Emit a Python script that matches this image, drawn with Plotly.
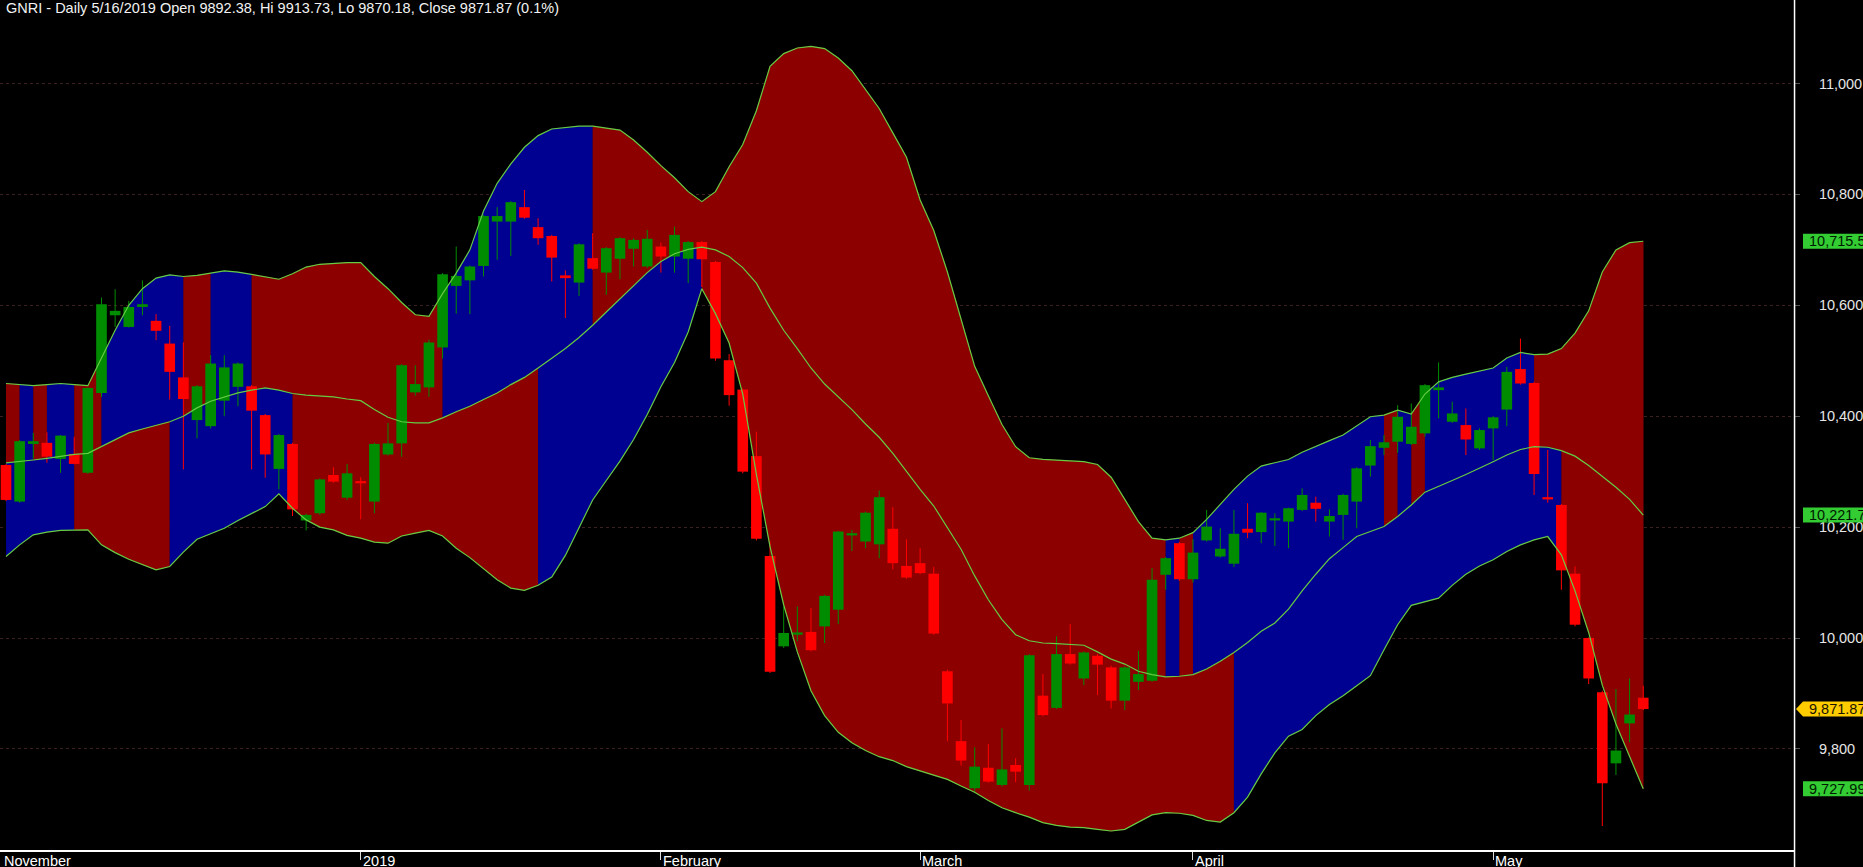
import plotly.graph_objects as go

# ---------------- data ----------------
opens = [10312,10246,10350,10352,10323,10332,10298,10442,10582,10561,
         10597,10572,10531,10470,10393,10382,10428,10453,10454,10402,
         10305,10350,10212,10225,10294,10253,10283,10246,10331,10351,
         10443,10452,10524,10635,10645,10671,10751,10751,10777,10741,
         10725,10654,10641,10685,10659,10684,10702,10670,10706,10688,
         10684,10714,10678,10501,10448,10328,10148,9985,10007,10011,
         10021,10051,10185,10174,10169,10197,10130,10135,10116,9940,
         9814,9729,9766,9735,9771,9735,9896,9874,9971,9927,
         9968,9947,9887,9921,9923,10114,10171,10106,10176,10147,
         10134,10197,10191,10212,10210,10231,10244,10210,10222,10246,
         10311,10343,10354,10350,10369,10447,10390,10384,10342,10378,
         10412,10485,10460,10254,10240,10116,10000,9902,9774,9846,
         9892.38]
highs = [10314,10357,10370,10371,10366,10363,10452,10614,10629,10608,
         10645,10584,10563,10533,10456,10510,10510,10497,10456,10404,
         10368,10352,10224,10288,10308,10314,10290,10352,10388,10494,
         10492,10538,10658,10706,10672,10763,10777,10788,10808,10757,
         10727,10663,10712,10730,10705,10723,10721,10736,10713,10742,
         10716,10716,10680,10512,10450,10372,10174,10057,10057,10054,
         10078,10193,10195,10228,10266,10236,10178,10162,10128,9943,
         9852,9803,9809,9837,9783,9971,9935,10003,10025,9976,
         9971,9950,9949,9977,10126,10146,10173,10178,10231,10198,
         10231,10243,10227,10225,10235,10270,10255,10232,10260,10308,
         10357,10366,10420,10423,10458,10497,10426,10414,10378,10400,
         10489,10540,10462,10339,10242,10129,10001,9905,9908,9927,
         9913.73]
lows = [10247,10244,10324,10316,10298,10313,10296,10435,10561,10560,
        10582,10537,10430,10304,10360,10378,10400,10418,10304,10289,
        10268,10220,10194,10222,10280,10249,10214,10225,10329,10327,
        10437,10435,10504,10585,10584,10652,10682,10689,10756,10709,
        10643,10577,10617,10664,10619,10647,10670,10667,10659,10659,
        10640,10633,10500,10419,10297,10176,9937,9982,9994,9976,
        9991,10025,10157,10162,10144,10124,10107,10115,10006,9814,
        9770,9721,9739,9732,9740,9725,9859,9872,9952,9915,
        9897,9873,9870,9906,9921,10087,10103,10100,10174,10145,
        10128,10180,10171,10166,10162,10229,10210,10183,10177,10198,
        10291,10330,10334,10348,10363,10396,10388,10330,10339,10321,
        10382,10457,10258,10244,10087,10021,9917,9661,9753,9812,
        9870.18]
closes = [10249,10355,10355,10327,10365,10314,10451,10602,10590,10597,
          10602,10554,10480,10431,10454,10495,10488,10495,10410,10331,
          10366,10232,10222,10286,10282,10297,10279,10350,10351,10492,
          10458,10533,10656,10653,10670,10761,10761,10786,10758,10721,
          10686,10649,10710,10666,10703,10721,10718,10720,10688,10727,
          10714,10683,10504,10438,10300,10179,9939,10009,10009,9978,
          10076,10192,10189,10226,10254,10135,10109,10117,10008,9882,
          9779,9768,9741,9763,9759,9969,9861,9971,9954,9974,
          9952,9887,9947,9935,10105,10144,10106,10154,10201,10161,
          10188,10190,10226,10216,10234,10258,10233,10220,10258,10306,
          10346,10353,10399,10381,10456,10452,10405,10358,10375,10398,
          10480,10459,10296,10250,10122,10024,9927,9738,9797,9862,
          9871.87]

bb_upper = [10459,10457,10455,10457,10459,10457,10455,10505,10555,10600,
            10630,10649,10655,10652,10654,10658,10662,10660,10656,10652,
            10647,10657,10669,10674,10676,10677,10677,10652,10630,10605,
            10583,10580,10621,10658,10700,10770,10820,10855,10885,10906,
            10918,10921,10923,10923,10919,10916,10898,10876,10852,10830,
            10805,10787,10805,10850,10890,10951,11031,11054,11064,11067,
            11063,11046,11023,10989,10955,10911,10867,10790,10735,10660,
            10575,10490,10437,10385,10345,10325,10322,10321,10320,10318,
            10313,10290,10250,10210,10180,10177,10180,10190,10214,10240,
            10268,10292,10310,10316,10322,10335,10346,10356,10366,10383,
            10399,10402,10411,10404,10440,10462,10470,10476,10481,10487,
            10505,10515,10511,10512,10522,10550,10590,10660,10700,10713,
            10715.5]
bb_mid = [10316,10318,10321,10324,10328,10331,10333,10345,10358,10370,
          10377,10384,10390,10400,10415,10427,10435,10442,10447,10451,
          10447,10441,10438,10436,10435,10431,10428,10412,10398,10390,
          10388,10388,10397,10408,10418,10430,10442,10457,10470,10487,
          10504,10522,10542,10564,10588,10612,10635,10659,10679,10693,
          10701,10705,10700,10688,10668,10640,10595,10555,10522,10487,
          10458,10435,10412,10386,10362,10333,10300,10268,10238,10200,
          10160,10112,10069,10033,10006,9995,9991,9990,9989,9987,
          9975,9962,9953,9940,9934,9930,9931,9934,9944,9958,
          9974,9992,10012,10027,10052,10085,10115,10143,10163,10183,
          10192,10201,10219,10240,10263,10273,10284,10295,10306,10318,
          10330,10340,10345,10344,10338,10328,10311,10292,10272,10250,
          10221.7]
bb_lower = [10147,10168,10186,10191,10194,10195,10195,10168,10154,10142,
            10132,10123,10129,10155,10178,10188,10198,10212,10224,10237,
            10260,10234,10213,10200,10195,10185,10180,10173,10171,10184,
            10189,10194,10184,10162,10145,10125,10105,10090,10086,10095,
            10110,10149,10199,10249,10284,10319,10358,10403,10453,10497,
            10552,10630,10585,10532,10440,10295,10165,10060,9975,9905,
            9860,9830,9811,9797,9786,9779,9768,9760,9752,9745,
            9733,9722,9707,9694,9685,9677,9667,9662,9659,9658,
            9655,9652,9655,9668,9681,9685,9684,9680,9671,9668,
            9685,9713,9755,9793,9823,9835,9860,9880,9896,9914,
            9932,9979,10024,10059,10066,10072,10095,10115,10130,10141,
            10156,10168,10177,10183,10150,10085,10010,9915,9845,9785,
            9727.99]

# colour of band halves, as runs between bar indices (B = blue, R = dark red)
upper_runs = [(0, 1, "R"), (1, 2, "B"), (2, 3, "R"), (3, 5, "B"), (5, 7, "R"),
              (7, 13, "B"), (13, 15, "R"), (15, 18, "B"), (18, 32, "R"),
              (32, 43, "B"), (43, 85, "R"), (85, 86, "B"), (86, 87, "R"),
              (87, 101, "B"), (101, 102, "R"), (102, 103, "B"), (103, 104, "R"),
              (104, 112, "B"), (112, 120, "R")]
lower_runs = [(0, 5, "B"), (5, 12, "R"), (12, 21, "B"), (21, 39, "R"),
              (39, 51, "B"), (51, 90, "R"), (90, 114, "B"), (114, 120, "R")]

month_labels = ["2019", "February", "March", "April", "May"]
month_idx = [26, 48, 67, 87, 109]
first_label = "November"
y_ticks = [9800, 10000, 10200, 10400, 10600, 10800, 11000]
title_text = "GNRI - Daily 5/16/2019 Open 9892.38, Hi 9913.73, Lo 9870.18, Close 9871.87 (0.1%)"

# ---------------- styling ----------------
FILL = {"B": "rgb(0,0,145)", "R": "rgb(140,0,0)"}
UP_C = "rgb(0,140,0)"
DN_C = "rgb(255,0,0)"
LINE_C = "#66cc44"
FONT = "Liberation Sans, Arial, sans-serif"
FS = 14.5

W, H = 1863, 867
PLOT_W, PLOT_H = 1797, 850
PX_PER_UNIT = 0.5545
Y_RANGE = [9617.7, 11150.6]
X_RANGE = [-0.439, 131.05]
BAR_PX = 0.78 * PLOT_W / (X_RANGE[1] - X_RANGE[0])   # body width in pixels

n = len(closes)
idx = list(range(n))

fig = go.Figure()

# band fills
for runs, top, bot in ((upper_runs, bb_upper, bb_mid), (lower_runs, bb_mid, bb_lower)):
    for a, b, c in runs:
        xs = list(range(a, b + 1)) + list(range(b, a - 1, -1))
        ys = top[a:b + 1] + bot[a:b + 1][::-1]
        fig.add_trace(go.Scatter(x=xs, y=ys, mode="lines", fill="toself",
                                 fillcolor=FILL[c], line=dict(width=0.5, color=FILL[c]),
                                 hoverinfo="skip"))

# candles: wicks and bodies
for up in (True, False):
    wx, wy, bx, by = [], [], [], []
    for i in idx:
        o, c = opens[i], closes[i]
        if (c >= o) == up:
            wx += [i, i, None]
            wy += [lows[i], highs[i], None]
            h = max(abs(c - o), 4)
            mid = (o + c) / 2
            bx += [i, i, None]
            by += [mid - h / 2, mid + h / 2, None]
    col = UP_C if up else DN_C
    fig.add_trace(go.Scatter(x=wx, y=wy, mode="lines", line=dict(color=col, width=1),
                             hoverinfo="skip"))
    fig.add_trace(go.Scatter(x=bx, y=by, mode="lines", line=dict(color=col, width=BAR_PX),
                             hoverinfo="skip"))

# band lines
for band in (bb_upper, bb_mid, bb_lower):
    fig.add_trace(go.Scatter(x=idx, y=band, mode="lines",
                             line=dict(color=LINE_C, width=1.2), hoverinfo="skip"))

shapes = []
annotations = []

# right vertical axis line down to the bottom of the page
shapes.append(dict(type="line", xref="paper", yref="paper", x0=1.0003, x1=1.0003,
                   y0=-0.03, y1=1.0, line=dict(color="white", width=1.5)))

# value boxes on the right axis
half = 7.5 / PX_PER_UNIT
bx0, bx1 = 1806 / PLOT_W, 1875 / PLOT_W
tx = 1810 / PLOT_W
for val, txt in ((bb_upper[-1], f"{bb_upper[-1]:,.1f}"),
                 (bb_mid[-1], f"{bb_mid[-1]:,.1f}"),
                 (bb_lower[-1], f"{bb_lower[-1]:,.2f}")):
    shapes.append(dict(type="rect", xref="paper", yref="y", x0=bx0, x1=bx1,
                       y0=val - half, y1=val + half, fillcolor="#33cc33",
                       line=dict(width=0), layer="above"))
    annotations.append(dict(x=tx, y=val, xref="paper", yref="y", text=txt,
                            showarrow=False, xanchor="left", yanchor="middle",
                            font=dict(family=FONT, size=FS, color="#001a00")))
cv = closes[-1]
tip = 1799 / PLOT_W
shapes.append(dict(type="path", xref="paper", yref="y", layer="above",
                   path=(f"M {tip},{cv} L {bx0},{cv + half} L {bx1},{cv + half} "
                         f"L {bx1},{cv - half} L {bx0},{cv - half} Z"),
                   fillcolor="#ffcc00", line=dict(width=0)))
annotations.append(dict(x=tx, y=cv, xref="paper", yref="y", text=f"{cv:,.2f}",
                        showarrow=False, xanchor="left", yanchor="middle",
                        font=dict(family=FONT, size=FS, color="#1a1400")))

# title
annotations.append(dict(x=4 / PLOT_W, y=1, xref="paper", yref="paper", text=title_text,
                        showarrow=False, xanchor="left", yanchor="top", yshift=2,
                        font=dict(family=FONT, size=FS, color="#f2f2f2")))

# month labels
annotations.append(dict(x=0, y=0, xref="paper", yref="paper", text=first_label,
                        showarrow=False, xanchor="left", yanchor="top", xshift=2, yshift=-1,
                        font=dict(family=FONT, size=FS, color="white")))
for m, lab in zip(month_idx, month_labels):
    annotations.append(dict(x=m, y=0, xref="x", yref="paper", text=lab,
                            showarrow=False, xanchor="left", yanchor="top", xshift=0, yshift=-1,
                            font=dict(family=FONT, size=FS, color="white")))

fig.update_layout(
    width=W, height=H,
    margin=dict(l=0, r=W - PLOT_W, t=0, b=H - PLOT_H),
    paper_bgcolor="black", plot_bgcolor="black",
    showlegend=False,
    font=dict(family=FONT, size=FS, color="white"),
    shapes=shapes, annotations=annotations,
    xaxis=dict(range=X_RANGE, showgrid=False, zeroline=False,
               tickvals=month_idx, ticks="outside", ticklen=8, tickcolor="#dddddd",
               showticklabels=False, showline=True, linecolor="white", linewidth=1.5),
    yaxis=dict(range=Y_RANGE, side="right", tickvals=y_ticks,
               ticktext=[f"{v:,}" for v in y_ticks], ticks="outside", ticklen=5,
               tickcolor="#555555", ticklabelstandoff=16,
               tickfont=dict(family=FONT, size=FS, color="#e6e6e6"),
               showgrid=True, gridcolor="#3a2020", griddash="dot", gridwidth=1,
               zeroline=False, showline=False),
)

fig.write_html("out.html", config={"displayModeBar": False},
               post_script="document.body.style.margin='0px';document.body.style.overflow='hidden';")
